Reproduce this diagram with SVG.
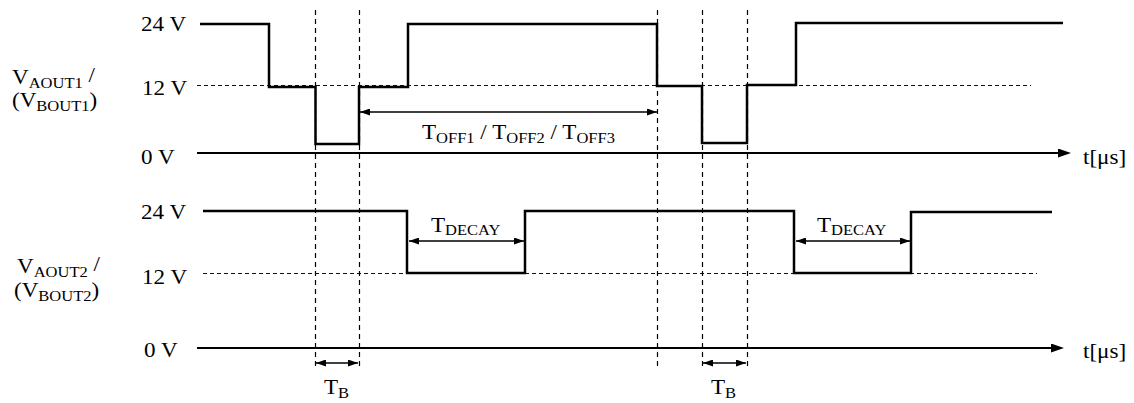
<svg xmlns="http://www.w3.org/2000/svg" width="1134" height="403" viewBox="0 0 1134 403">
<defs>
<style>
.lbl{font-family:"Liberation Serif","Times New Roman",serif;font-size:21px;fill:#000}
.sub{font-size:15px}
.wave{fill:none;stroke:#000;stroke-width:2.5;stroke-linejoin:miter}
.axis{fill:none;stroke:#000;stroke-width:2.2}
.hdash{fill:none;stroke:#111;stroke-width:1.2;stroke-dasharray:4,3}
.vdash{fill:none;stroke:#000;stroke-width:1.2;stroke-dasharray:5,4}
.dim{fill:none;stroke:#000;stroke-width:1.3}
</style>
<marker id="axArrow" viewBox="0 0 13 9" refX="6" refY="4.5" markerWidth="13" markerHeight="9" markerUnits="userSpaceOnUse" orient="auto">
<path d="M0,0 L13,4.5 L0,9 z" fill="#000"/>
</marker>
<marker id="dimArrow" viewBox="0 0 10 7" refX="10" refY="3.5" markerWidth="10" markerHeight="7" markerUnits="userSpaceOnUse" orient="auto-start-reverse">
<path d="M0,0 L10,3.5 L0,7 z" fill="#000"/>
</marker>
</defs>
<rect width="1134" height="403" fill="#fff"/>

<g id="guides">
<path class="hdash" d="M197,85.5 H1031"/>
<path class="hdash" d="M203,273.5 H1037"/>
<path class="vdash" d="M315.5,10 V370"/>
<path class="vdash" d="M359.5,10 V370"/>
<path class="vdash" d="M657.5,10 V368"/>
<path class="vdash" d="M702.5,10 V370"/>
<path class="vdash" d="M747.5,10 V370"/>
</g>

<g id="axes">
<path class="axis" d="M197,153 H1064" marker-end="url(#axArrow)"/>
<path class="axis" d="M197,348 H1057" marker-end="url(#axArrow)"/>
</g>

<g id="wave1">
<path class="wave" d="M200,24 H269 V87 H315.5 V144 H359 V87 H408 V24 H657 V86 H702 V143 H747 V85 H796 V23 H1063"/>
</g>
<g id="wave2">
<path class="wave" d="M203,211 H407 V273 H525 V211 H794 V273 H911 V212 H1052"/>
</g>

<g id="connectors">
<path class="dim" d="M360,112 H657" marker-start="url(#dimArrow)" marker-end="url(#dimArrow)"/>
<path class="dim" d="M409,241 H524" marker-start="url(#dimArrow)" marker-end="url(#dimArrow)"/>
<path class="dim" d="M796,241 H910" marker-start="url(#dimArrow)" marker-end="url(#dimArrow)"/>
<path class="dim" d="M316,363 H358" marker-start="url(#dimArrow)" marker-end="url(#dimArrow)"/>
<path class="dim" d="M703,363 H746" marker-start="url(#dimArrow)" marker-end="url(#dimArrow)"/>
</g>

<g id="labels-top">
<text class="lbl" transform="translate(141,31) scale(1.1,1)">24 V</text>
<text class="lbl" transform="translate(142,95) scale(1.1,1)">12 V</text>
<text class="lbl" transform="translate(141,164) scale(1.1,1)">0 V</text>
<text class="lbl" transform="translate(12,84) scale(1.1,1)">V<tspan class="sub" dy="4">AOUT1</tspan><tspan dy="-6"> /</tspan></text>
<text class="lbl" transform="translate(12,107) scale(1.1,1)">(V<tspan class="sub" dy="4">BOUT1</tspan><tspan dy="-4">)</tspan></text>
<text class="lbl" transform="translate(1083,164) scale(1.1,1)">t[μs]</text>
<text class="lbl" transform="translate(422,139) scale(1.1,1)">T<tspan class="sub" dy="4">OFF1</tspan><tspan dy="-4"> / T</tspan><tspan class="sub" dy="4">OFF2</tspan><tspan dy="-4"> / T</tspan><tspan class="sub" dy="4">OFF3</tspan></text>
</g>

<g id="labels-bottom">
<text class="lbl" transform="translate(141,219) scale(1.1,1)">24 V</text>
<text class="lbl" transform="translate(142,284) scale(1.1,1)">12 V</text>
<text class="lbl" transform="translate(144,357) scale(1.1,1)">0 V</text>
<text class="lbl" transform="translate(17,273) scale(1.1,1)">V<tspan class="sub" dy="4">AOUT2</tspan><tspan dy="-6"> /</tspan></text>
<text class="lbl" transform="translate(14,297) scale(1.1,1)">(V<tspan class="sub" dy="4">BOUT2</tspan><tspan dy="-4">)</tspan></text>
<text class="lbl" transform="translate(1083,358) scale(1.1,1)">t[μs]</text>
<text class="lbl" transform="translate(431,232) scale(1.1,1)">T<tspan class="sub" dy="3">DECAY</tspan></text>
<text class="lbl" transform="translate(817,232) scale(1.1,1)">T<tspan class="sub" dy="3">DECAY</tspan></text>
<text class="lbl" transform="translate(324,394) scale(1.1,1)">T<tspan class="sub" dy="4">B</tspan></text>
<text class="lbl" transform="translate(711,394) scale(1.1,1)">T<tspan class="sub" dy="4">B</tspan></text>
</g>
</svg>
